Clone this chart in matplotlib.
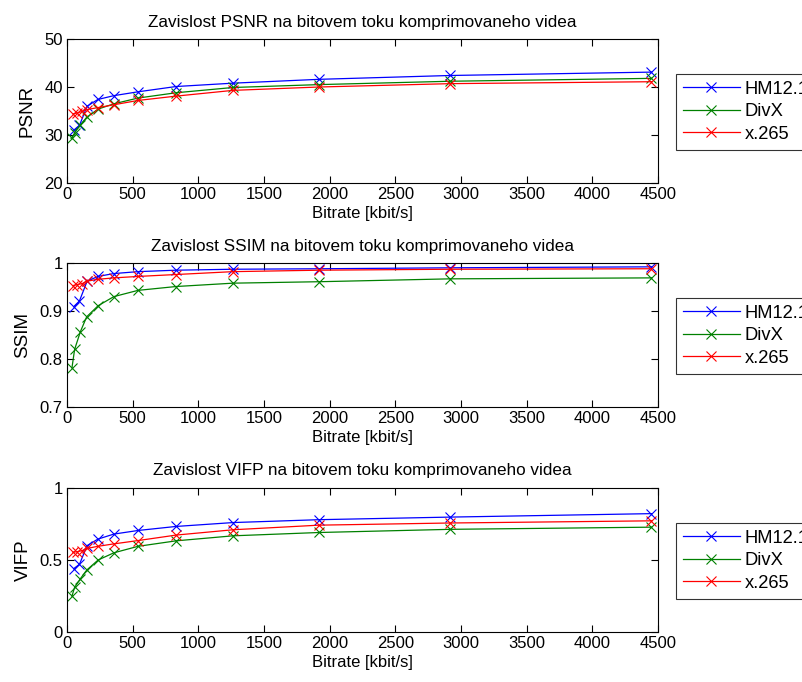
import matplotlib
matplotlib.use('Agg')
import matplotlib.pyplot as plt
from matplotlib.ticker import FuncFormatter

plt.rcParams['font.family'] = ['Liberation Sans', 'DejaVu Sans']

# bitrates [kbit/s] for each encoder
rate_hm = [51, 95, 153, 235, 357, 541, 830, 1265, 1920, 2920, 4450]
rate_divx = [38, 58, 102, 150, 237, 357, 541, 830, 1265, 1920, 2920, 4450]
rate_x265 = [46, 77, 115, 150, 235, 357, 541, 830, 1265, 1920, 2920, 4450]

# PSNR [dB]
psnr_hm = [31.0, 32.0, 36.0, 37.4, 38.2, 39.0, 40.1, 40.8, 41.6, 42.4, 43.1]
psnr_divx = [29.3, 30.5, 32.1, 33.7, 35.4, 36.5, 37.7, 38.8, 39.9, 40.5, 41.2, 41.8]
psnr_x265 = [34.4, 34.6, 34.9, 35.3, 35.7, 36.3, 37.2, 38.1, 39.3, 40.0, 40.7, 41.1]

# SSIM
ssim_hm = [0.909, 0.921, 0.962, 0.972, 0.978, 0.982, 0.985, 0.987, 0.988, 0.990, 0.992]
ssim_divx = [0.782, 0.820, 0.857, 0.888, 0.911, 0.930, 0.943, 0.951, 0.958, 0.961, 0.967, 0.969]
ssim_x265 = [0.953, 0.955, 0.957, 0.962, 0.966, 0.969, 0.972, 0.976, 0.982, 0.985, 0.987, 0.988]

# VIFP
vifp_hm = [0.44, 0.47, 0.60, 0.645, 0.68, 0.705, 0.733, 0.76, 0.78, 0.798, 0.822]
vifp_divx = [0.25, 0.31, 0.37, 0.43, 0.50, 0.55, 0.595, 0.633, 0.668, 0.691, 0.713, 0.728]
vifp_x265 = [0.554, 0.558, 0.565, 0.58, 0.595, 0.612, 0.635, 0.673, 0.71, 0.742, 0.757, 0.772]

labels = ['HM12.1', 'DivX', 'x.265']
colors = ['#0000ff', '#008000', '#ff0000']

panels = [
    ('PSNR', [psnr_hm, psnr_divx, psnr_x265], (20, 50), [20, 30, 40, 50], 1 - 183 / 682),
    ('SSIM', [ssim_hm, ssim_divx, ssim_x265], (0.7, 1), [0.7, 0.8, 0.9, 1], 1 - 407 / 682),
    ('VIFP', [vifp_hm, vifp_divx, vifp_x265], (0, 1), [0, 0.5, 1], 1 - 632 / 682),
]
rates = [rate_hm, rate_divx, rate_x265]

fig = plt.figure(figsize=(8.03, 6.82), dpi=100)

for name, series, ylim, yticks, bottom in panels:
    ax = fig.add_axes([67 / 803, bottom, 591 / 803, 144 / 682])
    for r, vals, lab, col in zip(rates, series, labels, colors):
        ax.plot(r, vals, color=col, marker='x', markersize=6.5, linewidth=0.9,
                markeredgewidth=0.8, label=lab)
    ax.set_xlim(0, 4500)
    ax.set_ylim(*ylim)
    ax.set_yticks(yticks)
    ax.set_xticks(range(0, 4501, 500))
    ax.yaxis.set_major_formatter(FuncFormatter(lambda v, p: '%g' % v))
    ax.tick_params(direction='in', top=True, right=True, length=5, width=0.8,
                   labelsize=12, pad=3)
    for s in ax.spines.values():
        s.set_linewidth(0.8)
    ax.set_title('Zavislost %s na bitovem toku komprimovaneho videa' % name,
                 fontsize=12.3, pad=9)
    ax.set_xlabel('Bitrate [kbit/s]', fontsize=12, labelpad=3)
    ax.set_ylabel(name, fontsize=13.5, labelpad=6)
    leg = ax.legend(loc='upper left', bbox_to_anchor=(1.03, 0.76), borderaxespad=0,
                    fancybox=False, edgecolor='black', fontsize=13.2,
                    handlelength=3.1, handletextpad=0.25, labelspacing=0.3,
                    borderpad=0.4)
    leg.get_frame().set_linewidth(0.8)

fig.savefig('out.png', dpi=100)
